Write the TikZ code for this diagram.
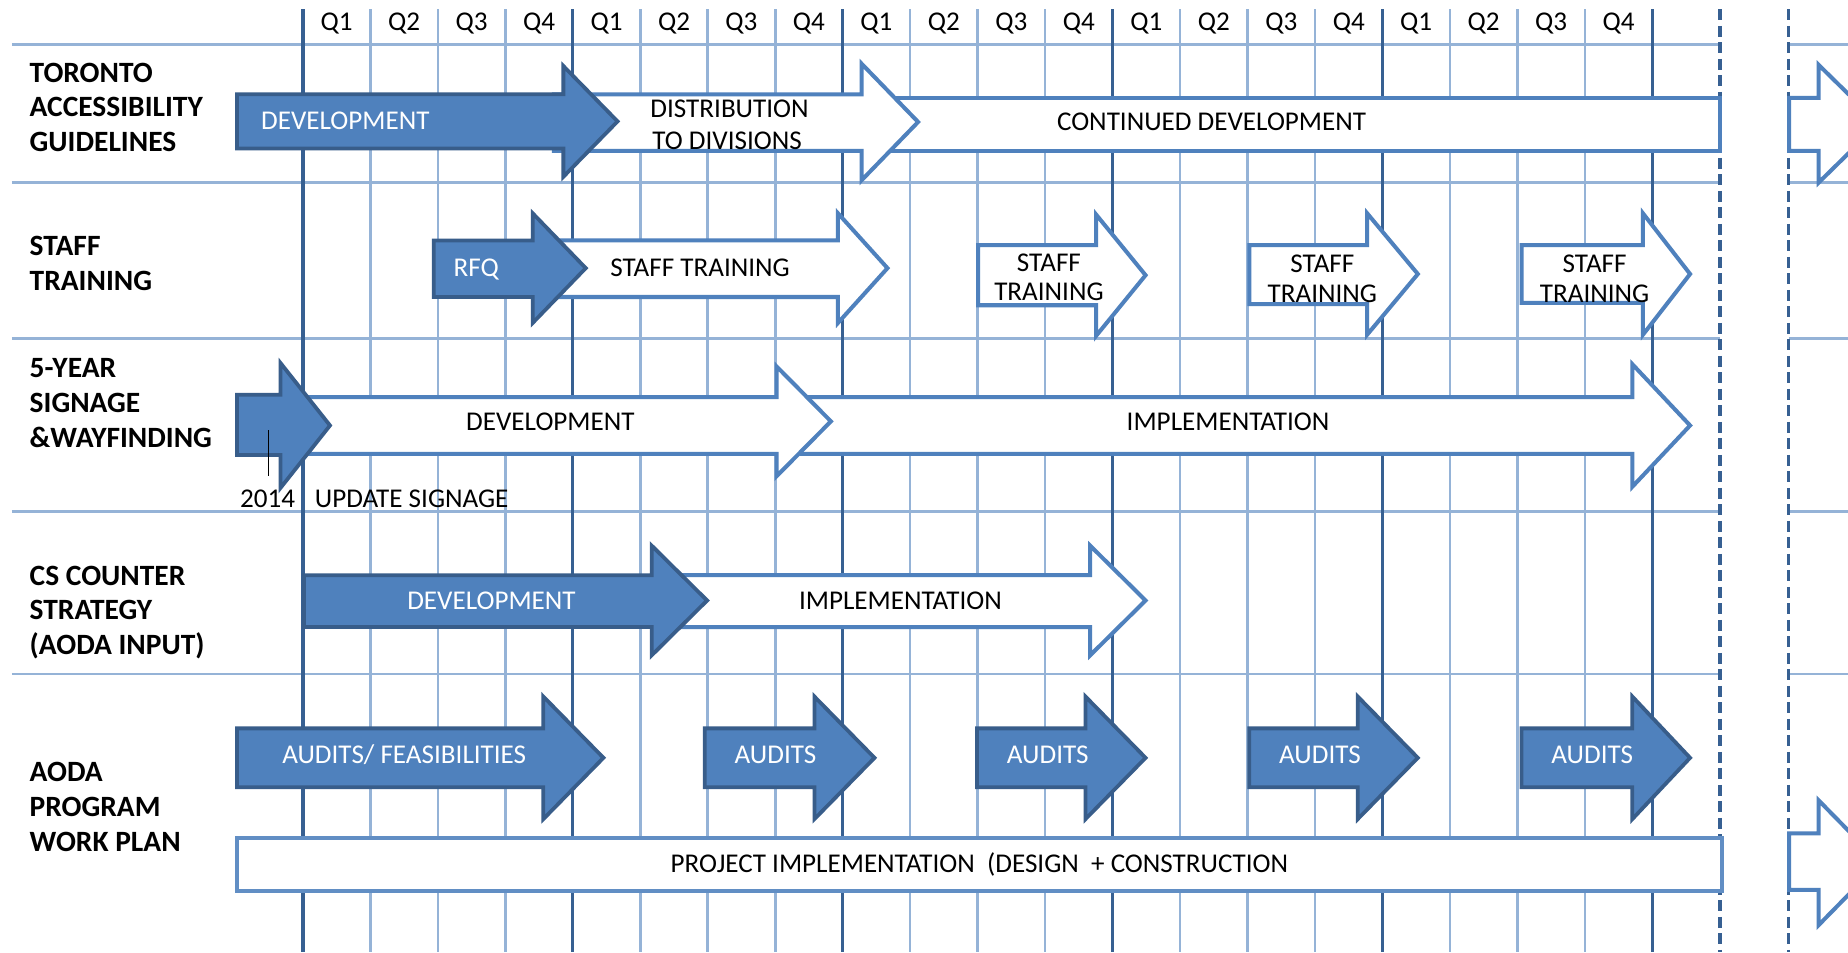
\documentclass[tikz,border=0pt]{standalone}
\usepackage{fontspec}
\setmainfont{Carlito}
\definecolor{gridlight}{HTML}{95B3D7}
\definecolor{griddark}{HTML}{376092}
\definecolor{fillblue}{HTML}{4F81BD}
\definecolor{darkstroke}{HTML}{385D8A}
\newcommand{\blockarrow}[8][]{%
  \draw[#1] (#2,#5) -- (#3,#5) -- (#3,#7) -- (#4,{(#7+#8)/2}) -- (#3,#8) -- (#3,#6) -- (#2,#6) -- cycle;}
\tikzset{
  lightgrid/.style={draw=gridlight, line width=2.2},
  darkgrid/.style={draw=griddark, line width=2.8},
  dashgrid/.style={draw=griddark, line width=2.8, dash pattern=on 9 off 5},
  darkarrow/.style={fill=fillblue, draw=darkstroke, line width=3.2, line join=miter},
  whitearrow/.style={fill=white, draw=fillblue, line width=3.4, line join=miter},
  projbox/.style={fill=white, draw=fillblue!90!white, line width=2.8},
  rowlabel/.style={anchor=base west, inner sep=0, font=\fontsize{25}{29}\selectfont\bfseries},
  intext/.style={anchor=base, inner sep=0, font=\fontsize{23}{27}\selectfont},
  wtext/.style={intext, text=white},
  qlabel/.style={anchor=base, inner sep=0, font=\fontsize{23}{27}\selectfont},
}
\begin{document}
\begin{tikzpicture}[x=1pt,y=-1pt]
\useasboundingbox (0,0) rectangle (1568,807.8);
\clip (0,0) rectangle (1568,807.8);
\fill[white] (0,0) rectangle (1568,807.8);
% horizontal grid lines
\foreach \yy in {38,155,287,434,572} {
  \draw[lightgrid] (10,\yy) -- (1459.5,\yy);
  \draw[lightgrid] (1517.5,\yy) -- (1568,\yy);
}
% vertical grid lines
\foreach \i in {0,...,20} {
  \draw[lightgrid] ({257+57.25*\i},8) -- ({257+57.25*\i},808);
}
\foreach \i in {0,4,...,20} {
  \draw[darkgrid] ({257+57.25*\i},8) -- ({257+57.25*\i},808);
}
\draw[dashgrid] (1459.5,8) -- (1459.5,808);
\draw[dashgrid] (1517.5,8) -- (1517.5,808);
% quarter labels
\foreach \i in {0,...,19} {
  \pgfmathtruncatemacro\q{mod(\i,4)+1}
  \node[qlabel] (q\i) at ({257+57.25*(\i+0.5)},25.5) {Q\q};
}
% row labels
\node[rowlabel] (l1a) at (25,69.7) {TORONTO};
\node[rowlabel] (l1b) at (25,98.7) {ACCESSIBILITY};
\node[rowlabel] (l1c) at (25,128.2) {GUIDELINES};
\node[rowlabel] (l2a) at (25,216.7) {STAFF};
\node[rowlabel] (l2b) at (25,246.7) {TRAINING};
\node[rowlabel] (l3a) at (25,320.7) {5-YEAR};
\node[rowlabel] (l3b) at (25,350.2) {SIGNAGE};
\node[rowlabel] (l3c) at (25,379.7) {\&WAYFINDING};
\node[rowlabel] (l4a) at (25,496.7) {CS COUNTER};
\node[rowlabel] (l4b) at (25,525.7) {STRATEGY};
\node[rowlabel] (l4c) at (25,555.7) {(AODA INPUT)};
\node[rowlabel] (l5a) at (25,662.7) {AODA};
\node[rowlabel] (l5b) at (25,692.7) {PROGRAM};
\node[rowlabel] (l5c) at (25,722.2) {WORK PLAN};
% row 1
\draw[whitearrow] (735,83) rectangle (1459,128);
\blockarrow[whitearrow]{470}{731}{779}{80}{128}{54}{153}
\blockarrow[darkarrow]{201}{478}{524}{80}{126}{56}{150}
\blockarrow[whitearrow]{1518}{1543}{1594}{83}{128}{55}{155}
\node[wtext] (t1a) at (293,109.5) {DEVELOPMENT};
\node[intext] (t1b) at (619,100) {DISTRIBUTION};
\node[intext] (t1c) at (617,127) {TO DIVISIONS};
\node[intext] (t1d) at (1028,111) {CONTINUED DEVELOPMENT};
% row 2
\blockarrow[whitearrow]{470}{711}{753}{204}{252}{181}{274}
\blockarrow[darkarrow]{368}{452}{497}{204}{252}{181}{274}
\blockarrow[whitearrow]{830}{930}{972}{208}{259}{182}{285}
\blockarrow[whitearrow]{1060}{1160}{1203}{208}{258}{181}{284}
\blockarrow[whitearrow]{1291}{1394}{1434}{208}{257}{181}{284}
\node[wtext] (t2a) at (404,235) {RFQ};
\node[intext] (t2b) at (594,235) {STAFF TRAINING};
\node[intext] (t2c) at (890,230) {STAFF};
\node[intext] (t2d) at (890,255) {TRAINING};
\node[intext] (t2e) at (1122,231) {STAFF};
\node[intext] (t2f) at (1122,257) {TRAINING};
\node[intext] (t2g) at (1353,231) {STAFF};
\node[intext] (t2h) at (1353,257) {TRAINING};
% row 3
\blockarrow[whitearrow]{680}{1385}{1434}{337}{385}{309}{413}
\blockarrow[whitearrow]{250}{659}{705}{337}{385}{311}{404}
\blockarrow[darkarrow]{201}{238}{280}{335}{386}{308}{414}
\coordinate (tk1) at (228,365);
\coordinate (tk2) at (228,404);
\draw[black, line width=1.3] (tk1) -- (tk2);
\node[intext] (t3a) at (467,365) {DEVELOPMENT};
\node[intext] (t3b) at (1042,365) {IMPLEMENTATION};
\node[intext] (t3c) at (227,431) {2014};
\node[intext, anchor=base west] (t3d) at (267,431) {UPDATE SIGNAGE};
% row 4
\blockarrow[whitearrow]{560}{925}{972}{488}{532}{463}{556}
\blockarrow[darkarrow]{258}{553}{600}{488}{532}{463}{556}
\node[wtext] (t4a) at (417,517) {DEVELOPMENT};
\node[intext] (t4b) at (764,517) {IMPLEMENTATION};
% row 5
\draw[projbox] (201,711) rectangle (1461,756);
\blockarrow[whitearrow]{1518}{1543}{1595}{707}{755}{679}{785}
\blockarrow[darkarrow]{201}{461}{512}{618}{668}{591}{695}
\blockarrow[darkarrow]{598}{691}{742}{618}{668}{591}{695}
\blockarrow[darkarrow]{829}{921}{972}{618}{668}{591}{695}
\blockarrow[darkarrow]{1060}{1152}{1203}{618}{668}{591}{695}
\blockarrow[darkarrow]{1291}{1385}{1434}{618}{668}{591}{695}
\node[wtext] (t5a) at (343,648) {AUDITS/ FEASIBILITIES};
\node[wtext] (t5b) at (658,648) {AUDITS};
\node[wtext] (t5c) at (889,648) {AUDITS};
\node[wtext] (t5d) at (1120,648) {AUDITS};
\node[wtext] (t5e) at (1351,648) {AUDITS};
\node[intext] (t5f) at (831,740) {PROJECT IMPLEMENTATION\ \ (DESIGN\ \ + CONSTRUCTION};
\end{tikzpicture}
\end{document}
